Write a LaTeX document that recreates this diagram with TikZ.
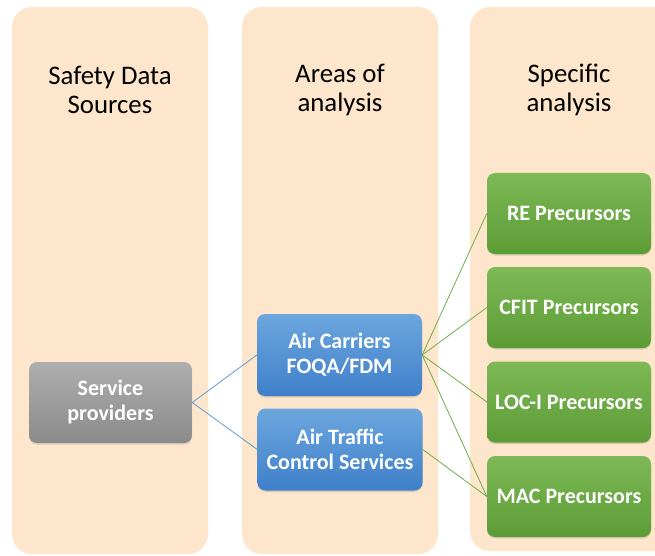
\documentclass[tikz,border=0pt]{standalone}
\usepackage{fontspec}
\setmainfont{Carlito}
\usepackage{tikz}
\usetikzlibrary{shadows}

\definecolor{peach}{HTML}{FDE6CB}
\definecolor{greytop}{HTML}{AEAEAE}
\definecolor{greybot}{HTML}{8A8A8A}
\definecolor{bluetop}{HTML}{6CA6DE}
\definecolor{bluebot}{HTML}{3F80CA}
\definecolor{greentop}{HTML}{7DB956}
\definecolor{greenbot}{HTML}{5C9C35}
\definecolor{blueline}{HTML}{5B9BD5}
\definecolor{greenline}{HTML}{70AD47}

\begin{document}
\begin{tikzpicture}[x=1pt,y=-1pt]
  % Define styles
  \tikzstyle{column} = [fill=peach, draw=none, rounded corners=20pt]
  \tikzstyle{title} = [align=center, font=\fontsize{26.8}{29}\selectfont, text=black]
  \tikzstyle{box} = [rectangle, rounded corners=8pt, align=center, text=white,
    font=\fontsize{22}{25}\selectfont\bfseries, inner sep=2pt,
    drop shadow={shadow xshift=0pt, shadow yshift=-1.5pt, opacity=0.25}]
  \tikzstyle{source} = [box, top color=greytop, bottom color=greybot,
    minimum width=163pt, minimum height=81pt]
  \tikzstyle{area} = [box, top color=bluetop, bottom color=bluebot,
    minimum width=165pt, minimum height=82pt]
  \tikzstyle{spec} = [box, top color=greentop, bottom color=greenbot,
    minimum width=164pt, minimum height=81pt]
  \tikzstyle{blink} = [blueline, line width=0.8pt]
  \tikzstyle{glink} = [greenline, line width=0.8pt]

  \useasboundingbox (0,0) rectangle (655,556);
  \clip (0,0) rectangle (655,556);

  % Columns
  \fill[column] (12,7) rectangle (208,554);
  \fill[column] (242,7) rectangle (438,554);
  \fill[column] (470,7) rectangle (690,551);

  % Column titles
  \node[title] (t1) at (110,90) {Safety Data\\Sources};
  \node[title] (t2) at (340,90) {Areas of\\analysis};
  \node[title] (t3) at (569,90) {Specific\\analysis};

  % Nodes
  \node[source] (sp) at (110.5,402.5) {Service\\providers};
  \node[area] (acf) at (339.5,355) {Air Carriers\\FOQA/FDM};
  \node[area] (atc) at (340,449.5) {Air Traffic\\Control Services};
  \node[spec] (re) at (569,213.5) {RE Precursors};
  \node[spec] (cfit) at (569,307.5) {CFIT Precursors};
  \node[spec] (loci) at (569,402) {LOC-I Precursors};
  \node[spec] (mac) at (569,496.5) {MAC Precursors};

  % Edges
  \draw[blink] (sp.east) -- (acf.west);
  \draw[blink] (sp.east) -- (atc.west);
  \draw[glink] (acf.east) -- (re.west);
  \draw[glink] (acf.east) -- (cfit.west);
  \draw[glink] (acf.east) -- (loci.west);
  \draw[glink] (acf.east) -- (mac.west);
  \draw[glink] (atc.east) -- (mac.west);
\end{tikzpicture}
\end{document}
